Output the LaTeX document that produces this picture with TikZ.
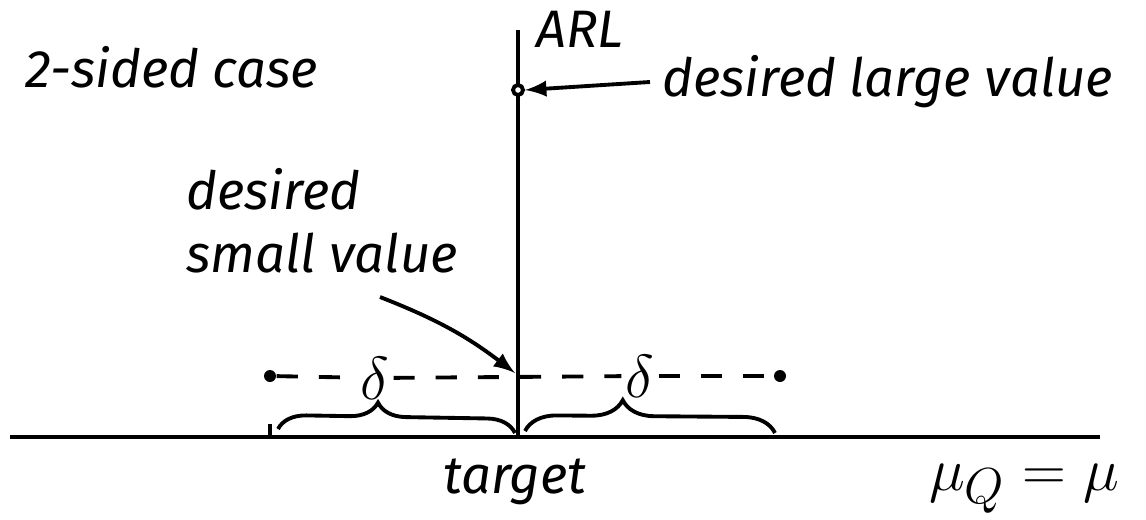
\documentclass[tikz,border=0pt]{standalone}
\usepackage{fontspec}
\setmainfont{Fira Sans}
\usetikzlibrary{decorations.pathreplacing}
\tikzset{
  hand/.style={font=\fontsize{15}{18}\selectfont\itshape},
  handmath/.style={font=\fontsize{19}{22}\selectfont},
  axis/.style={line width=1.3pt},
  ink/.style={line width=1.1pt},
  bracemark/.style={ink,decorate,decoration={brace,amplitude=#1,raise=0pt}}
}
\begin{document}
\begin{tikzpicture}
        \useasboundingbox (0,0) rectangle (11.46,5.19);
        % axes
        \coordinate (orig) at (5.18,0.82);
        \coordinate (xend) at (11.00,0.82);
        \coordinate (xstart) at (0.10,0.82);
        \coordinate (ytop) at (5.18,4.89);
        \draw[axis] (xstart) -- (xend);
        \draw[axis] (orig) -- (ytop);
        \node[hand] at (5.80,4.90) (arl) {ARL};
        \node[hand] at (1.72,4.52) (case) {2-sided case};
        \node[hand] at (5.15,0.37) (target) {target};
        \node[handmath] at (10.24,0.30) (mu) {$\mu_Q=\mu$};
        % large value at target
        \node[draw,circle,ink,inner sep=0pt,minimum size=0.1cm,fill=white] at (5.18,4.29) (large) {};
        \node[hand,anchor=west] at (6.50,4.37) (largetxt) {desired large value};
        \draw[-latex,ink] (largetxt.west) -- (large.east);
        % small value at shift delta
        \node[hand,align=left] at (3.22,2.98) (smalltxt) {desired\\small value};
        \coordinate (tail) at (3.80,2.22);
        \coordinate (hit) at (5.15,1.46);
        \draw[-latex,ink] (tail) to[bend left=8] (hit);
        \node[circle,fill,inner sep=0pt,minimum size=0.12cm] at (2.70,1.43) (lo) {};
        \node[circle,fill,inner sep=0pt,minimum size=0.12cm] at (7.80,1.43) (hi) {};
        \node[handmath,inner sep=1pt] at (3.75,1.41) (dleft) {$\delta$};
        \node[handmath,inner sep=1pt] at (6.40,1.43) (dright) {$\delta$};
        \draw[ink,dashed,dash pattern=on 6pt off 6pt] (lo) -- (dleft);
        \draw[ink,dashed,dash pattern=on 6pt off 6pt] (dleft) -- (dright);
        \draw[ink,dashed,dash pattern=on 6pt off 6pt] (dright) -- (hi);
        % braces
        \coordinate (bl) at (2.78,0.90);
        \coordinate (br) at (5.15,0.86);
        \coordinate (cl) at (5.25,0.88);
        \coordinate (cr) at (7.75,0.86);
        \draw[bracemark=8pt,decoration={aspect=0.42}] (bl) -- (br);
        \draw[bracemark=9pt,decoration={aspect=0.39}] (cl) -- (cr);
        \coordinate (tick) at (2.70,0.95);
        \coordinate (tickfoot) at (2.70,0.82);
        \draw[ink] (tick) -- (tickfoot);
      \end{tikzpicture}
\end{document}
